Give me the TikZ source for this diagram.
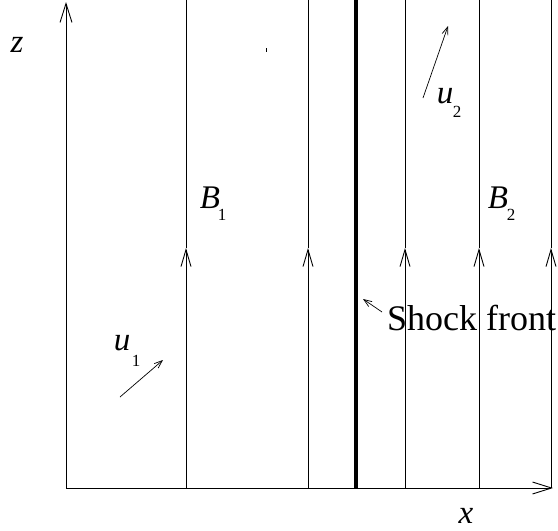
\documentclass[tikz,border=0pt]{standalone}
\usepackage{fontspec}
\setmainfont{Liberation Serif}
\usetikzlibrary{arrows.meta}
\tikzset{
  thinline/.style={line width=0.9pt},
  axisarrow/.style={thinline,-{Straight Barb[length=19pt,width=12pt,line width=0.9pt]}},
  fieldarrow/.style={thinline,-{Straight Barb[length=17pt,width=10pt,line width=0.9pt]}},
  smallarrow/.style={line width=0.7pt,-{Straight Barb[length=8pt,width=6pt,line width=0.7pt]}},
  lbl/.style={inner sep=0pt,font=\fontsize{33}{33}\selectfont\itshape},
  sub/.style={inner sep=0pt,font=\fontsize{17}{17}\selectfont},
}
\begin{document}
\begin{tikzpicture}[x=1pt,y=-1pt]
\useasboundingbox (0,0) rectangle (558,531);
% axes
\coordinate (O) at (66,488);
\coordinate (ztip) at (66,2);
\coordinate (xtip) at (553,488);
\draw[axisarrow] (O) -- (ztip);
\draw[axisarrow] (O) -- (xtip);
\node[lbl] (zl) at (17,45) {z};
\node[lbl] (xl) at (466,516) {x};
% field lines
\foreach \xx/\nm in {186/a,308/b,405/c,479/d,551/e}{
  \coordinate (\nm0) at (\xx,488);
  \coordinate (\nm1) at (\xx,248);
  \coordinate (\nm2) at (\xx,0);
  \draw[fieldarrow] (\nm0) -- (\nm1);
  \draw[thinline] (\nm1) -- (\nm2);
}
% shock front
\coordinate (s0) at (356,488);
\coordinate (s1) at (356,0);
\draw[line width=4.5pt] (s0) -- (s1);
\node[inner sep=0pt,anchor=west,font=\fontsize{36}{36}\selectfont] (sf) at (387,318) {Shock front};
\coordinate (sfa) at (382,312);
\coordinate (sfb) at (363,299);
\draw[smallarrow] (sfa) -- (sfb);
% labels B
\node[lbl] (B1) at (210,198) {B};
\node[sub] (B1s) at (222,215) {1};
\node[lbl] (B2) at (498,198) {B};
\node[sub] (B2s) at (511,215) {2};
% velocities
\coordinate (u1a) at (120,397);
\coordinate (u1b) at (163,360);
\draw[smallarrow] (u1a) -- (u1b);
\node[lbl] (u1) at (122,343) {u};
\node[sub] (u1s) at (136,361) {1};
\coordinate (u2a) at (423,98);
\coordinate (u2b) at (448,26);
\draw[smallarrow] (u2a) -- (u2b);
\node[lbl] (u2) at (445,96) {u};
\node[sub] (u2s) at (457,112) {2};
% stray tick
\coordinate (t0) at (266,48);
\coordinate (t1) at (266,52);
\draw[line width=1pt] (t0) -- (t1);
\end{tikzpicture}
\end{document}
